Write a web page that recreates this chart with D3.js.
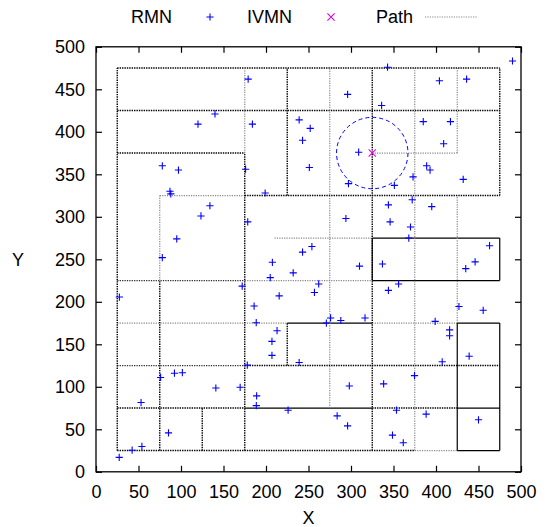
<!DOCTYPE html>
<html><head><meta charset="utf-8">
<script src="https://cdn.jsdelivr.net/npm/d3@7"></script>
<style>
body{margin:0;background:#fff}
svg{display:block}
text{font-family:"Liberation Sans",Arial,Helvetica,sans-serif;fill:#000}
</style>
</head><body>
<svg id="c" width="549" height="527"></svg>
<script>
// ---- data ----
const rmnX = [179,140,120,184,239,252,243,78,97,176,251,87,88,199,343,296,404,436,336,385,417,409,309,389,393,373,432,297,351,372,344,395,294,346,370,368,254,463,446,435,310,337,262,257,344,356,427,455.5,276,288,316.5,271,399,416,416,134,123.5,178.5,95,78,243,207.5,232,205,172,27.5,215.5,186,188.5,213,207,207,178,239,76,92.3,101.6,141,169.6,53,189,188.6,226,85.3,54,42.5,27.3,439,407.3,298,338.4,374.7,353.5,388.4,283.7,296,450,348.8,361.5,490];
const rmnY = [462,421,409,409,414,404,390,360,355,356,358,330,327,328,476,444,460,462,431,412,412,386,376,360,355,347,344,339,337,320,314,312,298,294,288,275,265,266,247,239,242,244.5,221,211,213.5,221,194.5,190,181,178,181,175,177,167,160,313,301,294,274,252,258.5,246.5,234,228.5,218.5,205.6,207,195,175.4,166,153.5,137,125.5,128.6,111,116,116.6,98.6,99.4,81.5,89.3,77.8,72.5,45.8,29.8,25.4,17,136,129.4,101,103.5,113.1,72.5,67.8,65.8,54,61.2,43.1,34.2,483.3];
const ivmnX = [325];
const ivmnY = [375];
const ivmnRange = [42];
// [x1, y1, x2, y2, kind]
const segments = [
  [25,475,475,475,"grid"],[25,425,475,425,"grid"],[25,375,175,375,"grid"],
  [325,375,425,375,"path"],[75,325,175,325,"path"],[175,325,475,325,"grid"],
  [210,275,325,275,"path"],[325,275,475,275,"edge"],
  [25,225,175,225,"dark"],[175,225,325,225,"path"],[325,225,475,225,"edge"],
  [25,175,225,175,"path"],[225,175,325,175,"edge"],[325,175,425,175,"path"],[425,175,475,175,"edge"],
  [25,125,175,125,"dark"],[175,125,475,125,"grid"],
  [25,75,175,75,"grid"],[175,75,325,75,"edge"],[325,75,425,75,"grid"],[425,75,475,75,"edge"],
  [25,25,375,25,"grid"],[375,25,425,25,"path"],[425,25,475,25,"edge"],
  [25,25,25,475,"grid"],[75,225,75,325,"path"],[75,25,75,225,"grid"],[125,25,125,75,"grid"],
  [175,375,175,475,"path"],[175,25,175,375,"grid"],[225,325,225,475,"grid"],[225,125,225,175,"grid"],
  [275,75,275,475,"path"],[325,25,325,475,"grid"],[325,225,325,275,"edge"],
  [375,25,375,475,"path"],[425,375,425,475,"path"],[425,175,425,325,"path"],[425,25,425,175,"edge"],
  [475,325,475,475,"grid"],[475,225,475,275,"edge"],[475,25,475,175,"edge"]
];
const tickValues = [0,50,100,150,200,250,300,350,400,450,500];
const legendLabels = ["RMN","IVMN","Path"];

// ---- drawing ----
const svg = d3.select("#c");
const x = d3.scaleLinear().domain([0,500]).range([96,521]);
const y = d3.scaleLinear().domain([0,500]).range([471.8,46.8]);
const styles = {
  grid:{stroke:"#000",w:1.4,dash:"1.4,1"},
  dark:{stroke:"#333",w:1.3,dash:"1.3,1.1"},
  path:{stroke:"#888",w:1.2,dash:"1.2,1.2"},
  edge:{stroke:"#000",w:1.2,dash:null}
};

const fs = 18;
// axes
const gB = svg.append("g").attr("transform",`translate(0,${y(0)})`)
  .call(d3.axisBottom(x).tickValues(tickValues).tickSize(-6).tickPadding(13).tickFormat(d3.format("d")));
const gL = svg.append("g").attr("transform",`translate(${x(0)},0)`)
  .call(d3.axisLeft(y).tickValues(tickValues).tickSize(-6).tickPadding(11).tickFormat(d3.format("d")));
const gT = svg.append("g").attr("transform",`translate(0,${y(500)})`)
  .call(d3.axisTop(x).tickValues(tickValues).tickSize(-6).tickFormat(""));
const gR = svg.append("g").attr("transform",`translate(${x(500)},0)`)
  .call(d3.axisRight(y).tickValues(tickValues).tickSize(-6).tickFormat(""));
[gB,gL,gT,gR].forEach(g=>{
  g.select(".domain").remove();
  g.selectAll("line").attr("stroke","#000").attr("stroke-width",1.2);
  g.selectAll("text").attr("font-size",fs).attr("font-family","Liberation Sans, Arial, sans-serif").attr("fill","#000");
});

// segments
svg.append("g").selectAll("line").data(segments).join("line")
  .attr("x1",d=>x(d[0])).attr("y1",d=>y(d[1]))
  .attr("x2",d=>x(d[2])).attr("y2",d=>y(d[3]))
  .attr("stroke",d=>styles[d[4]].stroke)
  .attr("stroke-width",d=>styles[d[4]].w)
  .attr("stroke-dasharray",d=>styles[d[4]].dash);

// range circle
svg.append("g").selectAll("circle").data(ivmnX).join("circle")
  .attr("cx",(d)=>x(d)).attr("cy",(d,i)=>y(ivmnY[i]))
  .attr("r",(d,i)=>x(ivmnRange[i])-x(0))
  .attr("fill","none").attr("stroke","#0000ff").attr("stroke-width",1)
  .attr("stroke-dasharray","4,3");

// frame
svg.append("rect").attr("x",x(0)).attr("y",y(500))
  .attr("width",x(500)-x(0)).attr("height",y(0)-y(500))
  .attr("fill","none").attr("stroke","#000").attr("stroke-width",1.3);

// plus markers
const ps = 3.6;
const plusPath = (cx,cy)=>`M${cx-ps},${cy}H${cx+ps}M${cx},${cy-ps}V${cy+ps}`;
const crossPath = (cx,cy)=>`M${cx-ps},${cy-ps}L${cx+ps},${cy+ps}M${cx-ps},${cy+ps}L${cx+ps},${cy-ps}`;
svg.append("g").selectAll("path").data(rmnX).join("path")
  .attr("d",(d,i)=>plusPath(x(d),y(rmnY[i])))
  .attr("stroke","#0000ff").attr("stroke-width",1.1).attr("fill","none");
svg.append("g").selectAll("path").data(ivmnX).join("path")
  .attr("d",(d,i)=>crossPath(x(d),y(ivmnY[i])))
  .attr("stroke","#e000e0").attr("stroke-width",1.1).attr("fill","none");

// axis titles
svg.append("text").attr("x",(x(0)+x(500))/2).attr("y",524).attr("text-anchor","middle")
  .attr("font-size",fs).text("X");
svg.append("text").attr("x",18).attr("y",266).attr("text-anchor","middle")
  .attr("font-size",fs).text("Y");

// legend
const ly = 17;
const lg = svg.append("g");
lg.append("text").attr("x",172).attr("y",ly).attr("dy","0.35em").attr("text-anchor","end").attr("font-size",fs).text(legendLabels[0]);
lg.append("path").attr("d",plusPath(210,ly)).attr("stroke","#0000ff").attr("stroke-width",1.1);
lg.append("text").attr("x",292).attr("y",ly).attr("dy","0.35em").attr("text-anchor","end").attr("font-size",fs).text(legendLabels[1]);
lg.append("path").attr("d",crossPath(331,ly)).attr("stroke","#e000e0").attr("stroke-width",1.1);
lg.append("text").attr("x",413).attr("y",ly).attr("dy","0.35em").attr("text-anchor","end").attr("font-size",fs).text(legendLabels[2]);
lg.append("line").attr("x1",425).attr("x2",477).attr("y1",ly).attr("y2",ly)
  .attr("stroke","#888").attr("stroke-width",1.2).attr("stroke-dasharray","1.2,1.2");
</script>
</body></html>
